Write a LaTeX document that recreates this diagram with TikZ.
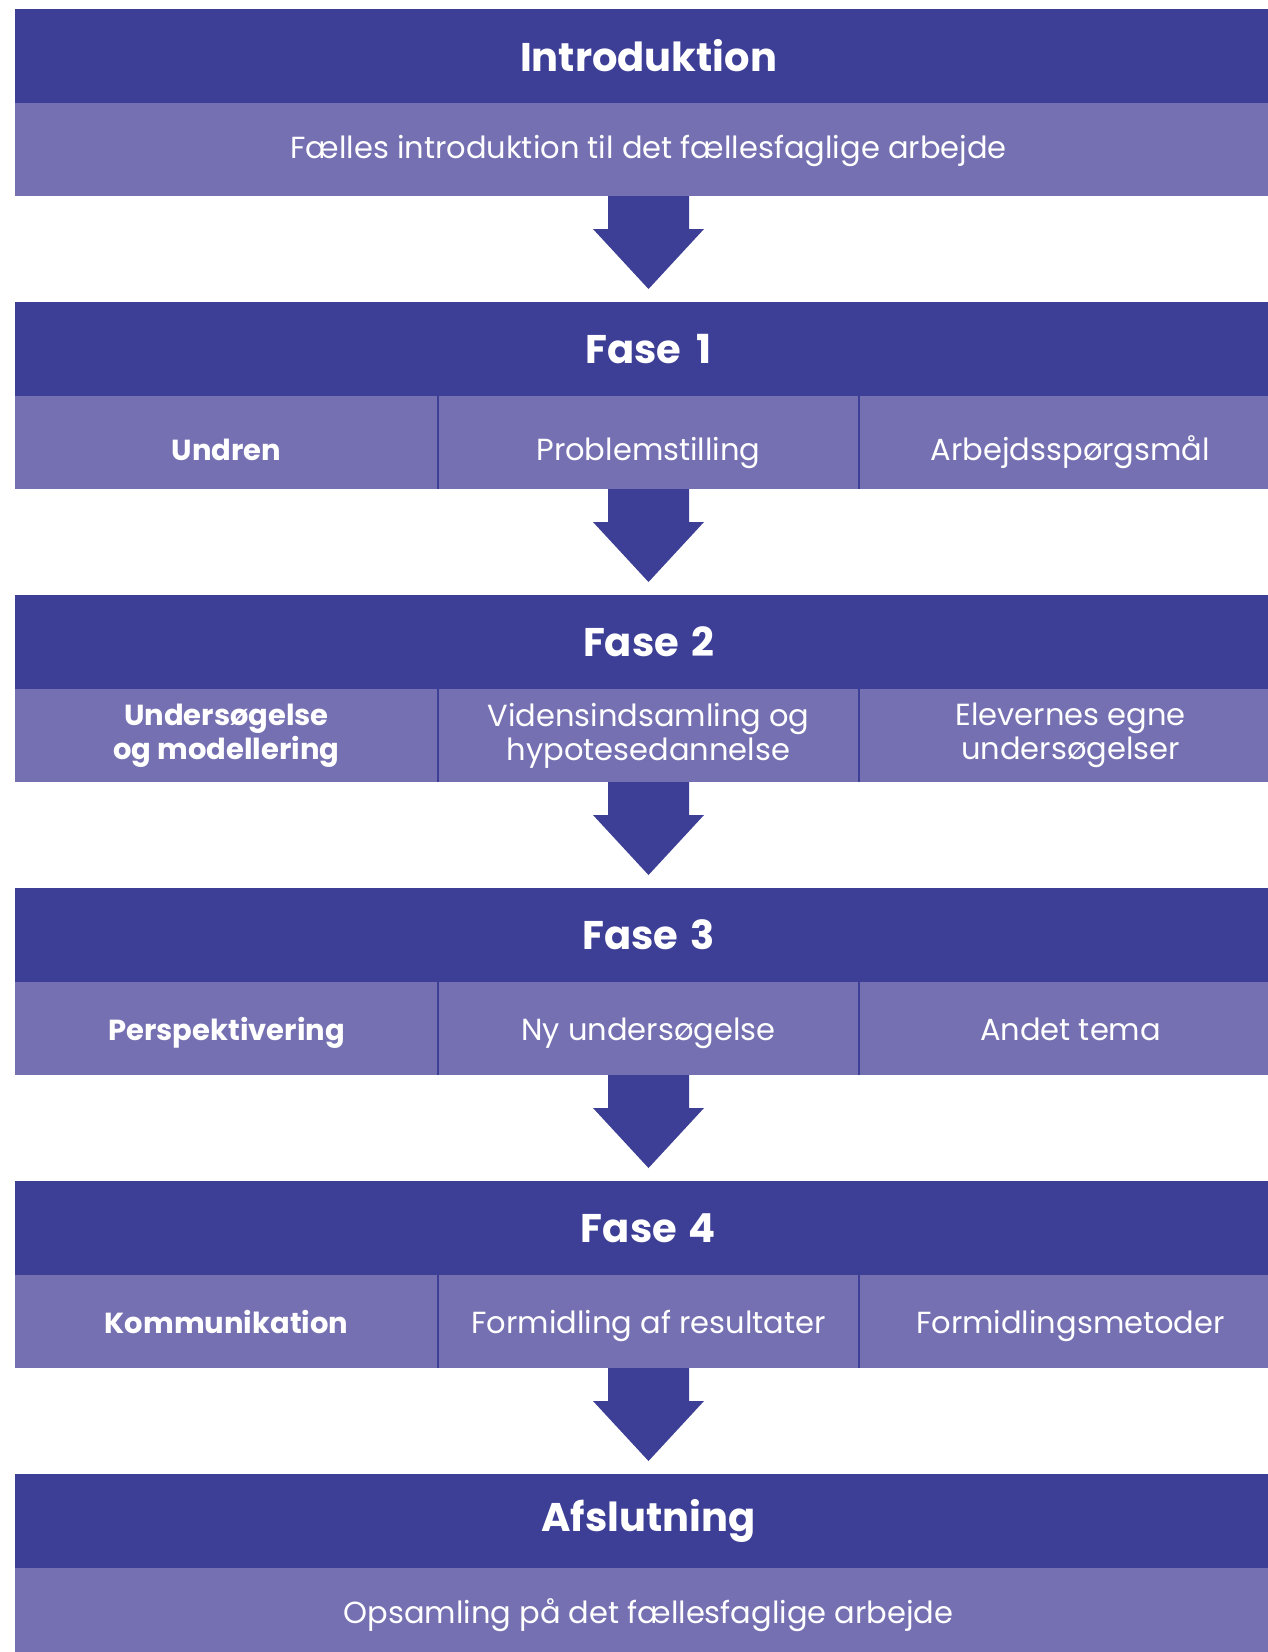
\documentclass[tikz,border=0pt]{standalone}
\usepackage{fontspec}
\setmainfont{Poppins}
\usetikzlibrary{calc}
\definecolor{dark}{RGB}{61,62,150}
\definecolor{light}{RGB}{117,112,178}
\begin{document}
\begin{tikzpicture}[x=1pt,y=-1pt,
  band/.style={fill=dark, minimum width=1267pt, minimum height=94pt, inner sep=0pt, outer sep=0pt, anchor=north west, text=white, font=\fontsize{40}{46}\selectfont\bfseries},
  sub/.style={fill=light, minimum width=1267pt, minimum height=93pt, inner sep=0pt, outer sep=0pt, anchor=north west, text=white, text height=24pt, text depth=7pt, font=\fontsize{30.5}{34}\selectfont},
  cell/.style={fill=light, minimum height=93pt, inner sep=0pt, outer sep=0pt, anchor=north west, text=white, align=center, font=\fontsize{30.5}{34}\selectfont},
  cellA/.style={cell, minimum width=423pt, font=\fontsize{29}{34}\selectfont\bfseries},
  cellB/.style={cell, minimum width=421pt},
  cellC/.style={cell, minimum width=423pt},
  rowone/.style={text height=40pt, text depth=5pt},
  rowstd/.style={text height=30pt, text depth=7pt},
  divider/.style={draw=dark, line width=2.5pt},
  bigarrow/.style={fill=dark}
]
\useasboundingbox (0,0) rectangle (1268,1652);
\clip (0,0) rectangle (1268,1652);
\fill[white] (0,0) rectangle (1268,1652);

% Introduktion
\node[band] (D0) at (15,9) {Introduktion};
\node[sub] (L0) at (15,103) {Fælles introduktion til det fællesfaglige arbejde};

% Fase 1
\node[band] (D1) at (15,302) {Fase\hspace{0.38em}1};
\node[cellA, rowone] (a1) at (15,396) {Undren};
\node[cellB, rowone] (b1) at (438,396) {Problemstilling};
\node[cellC, rowone] (c1) at (859,396) {Arbejdsspørgsmål};

% Fase 2
\node[band] (D2) at (15,595) {Fase\hspace{0.3em}2};
\node[cellA] (a2) at (15,689) {Undersøgelse\\og modellering};
\node[cellB] (b2) at (438,689) {Vidensindsamling og\\hypotesedannelse};
\node[cellC] (c2) at (859,689) {Elevernes egne\\undersøgelser};

% Fase 3
\node[band] (D3) at (15,888) {Fase\hspace{0.3em}3};
\node[cellA, rowstd] (a3) at (15,982) {Perspektivering};
\node[cellB, rowstd] (b3) at (438,982) {Ny undersøgelse};
\node[cellC, rowstd] (c3) at (859,982) {Andet tema};

% Fase 4
\node[band] (D4) at (15,1181) {Fase\hspace{0.3em}4};
\node[cellA, rowstd] (a4) at (15,1275) {Kommunikation};
\node[cellB, rowstd] (b4) at (438,1275) {Formidling af resultater};
\node[cellC, rowstd] (c4) at (859,1275) {Formidlingsmetoder};

% Afslutning
\node[band] (D5) at (15,1474) {Afslutning};
\node[sub] (L5) at (15,1568) {Opsamling på det fællesfaglige arbejde};

% dividers
\foreach \r in {1,2,3,4}{
  \draw[divider] (a\r.north east) -- (a\r.south east);
  \draw[divider] (b\r.north east) -- (b\r.south east);
}

% arrows
\foreach \s/\t in {L0/D1, b1/D2, b2/D3, b3/D4, b4/D5}{
  \fill[bigarrow] ($(\s.south)+(-40.5,0)$) -- ($(\s.south)+(40.5,0)$)
    -- ($(\s.south)+(40.5,33)$) -- ($(\s.south)+(55.5,33)$)
    -- ($(\t.north)+(0,-13)$)
    -- ($(\s.south)+(-55.5,33)$) -- ($(\s.south)+(-40.5,33)$) -- cycle;
}
\end{tikzpicture}
\end{document}
